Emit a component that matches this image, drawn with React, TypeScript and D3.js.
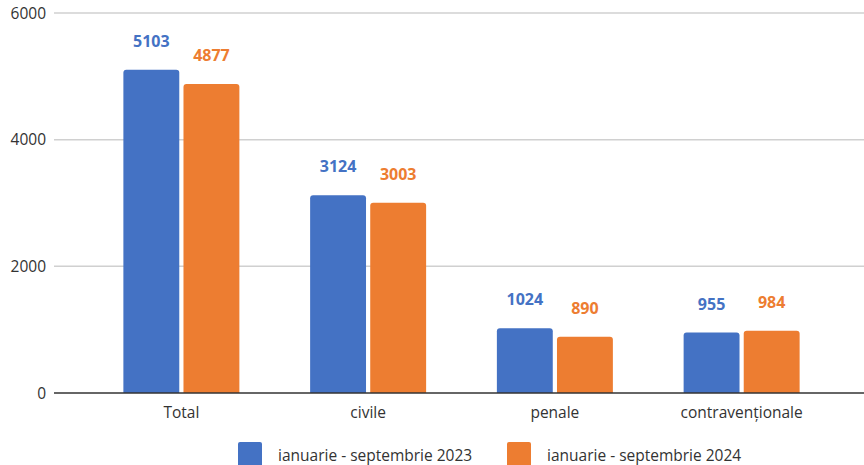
import { useRef, useEffect } from 'react';
import * as d3 from 'd3';

const W = 864;
const H = 465;

const categories = ['Total', 'civile', 'penale', 'contravenționale'];
const seriesNames = ['ianuarie - septembrie 2023', 'ianuarie - septembrie 2024'];
const values2023 = [5103, 3124, 1024, 955];
const values2024 = [4877, 3003, 890, 984];
const yTicks = [0, 2000, 4000, 6000];
const colors = ['#4472C4', '#ED7D31'];

const FONT = '"Open Sans", "Noto Sans", sans-serif';

export default function App() {
  const svgRef = useRef<SVGSVGElement>(null);

  useEffect(() => {
    const svg = d3.select(svgRef.current);
    svg.selectAll('*').remove();

    const y = d3.scaleLinear().domain([0, 6000]).range([393, 13]);
    const x0 = d3.scaleBand().domain(categories).range([88, 835]);
    const x1 = d3.scaleBand().domain(seriesNames).range([-58, 58]).paddingInner(0.07);

    // gridlines
    svg.append('g').selectAll('line').data(yTicks.filter(t => t > 0)).enter()
      .append('line')
      .attr('x1', 54).attr('x2', W)
      .attr('y1', d => y(d)).attr('y2', d => y(d))
      .attr('stroke', '#d0d0d0').attr('stroke-width', 1.5);

    svg.append('g').selectAll('text').data(yTicks).enter()
      .append('text')
      .attr('x', 46).attr('y', d => y(d) + 5.5)
      .attr('text-anchor', 'end')
      .attr('font-family', FONT).attr('font-size', 15.5).attr('fill', '#333')
      .text(d => String(d));

    const series = [values2023, values2024];
    const r = 3;
    series.forEach((vals, si) => {
      const g = svg.append('g');
      g.selectAll('path').data(categories).enter()
        .append('path')
        .attr('fill', colors[si])
        .attr('d', (c, i) => {
          const bx = x0(c)! + x0.bandwidth() / 2 + x1(seriesNames[si])!;
          const bw = x1.bandwidth();
          const top = y(vals[i]);
          const bot = y(0);
          return `M${bx},${bot}V${top + r}Q${bx},${top} ${bx + r},${top}H${bx + bw - r}Q${bx + bw},${top} ${bx + bw},${top + r}V${bot}Z`;
        });
      g.selectAll('text').data(categories).enter()
        .append('text')
        .attr('x', (c) => x0(c)! + x0.bandwidth() / 2 + x1(seriesNames[si])! + x1.bandwidth() / 2)
        .attr('y', (c, i) => y(vals[i]) - 23)
        .attr('text-anchor', 'middle')
        .attr('font-family', FONT).attr('font-size', 16).attr('font-weight', 'bold')
        .attr('fill', colors[si])
        .text((c, i) => String(vals[i]));
    });

    // zero line
    svg.append('line')
      .attr('x1', 54).attr('x2', W)
      .attr('y1', y(0)).attr('y2', y(0))
      .attr('stroke', '#333').attr('stroke-width', 1.5);

    svg.append('g').selectAll('text').data(categories).enter()
      .append('text')
      .attr('x', d => x0(d)! + x0.bandwidth() / 2)
      .attr('y', 418)
      .attr('text-anchor', 'middle')
      .attr('font-family', FONT).attr('font-size', 15.5).attr('fill', '#333')
      .text(d => d);

    // legend
    const legendX = [238, 507];
    seriesNames.forEach((name, i) => {
      svg.append('rect')
        .attr('x', legendX[i]).attr('y', 442).attr('width', 24).attr('height', 26)
        .attr('rx', 2).attr('fill', colors[i]);
      svg.append('text')
        .attr('x', legendX[i] + 40).attr('y', 461)
        .attr('font-family', FONT).attr('font-size', 15.5).attr('fill', '#333')
        .text(name);
    });
  }, []);

  return (
    <svg ref={svgRef} width={W} height={H}
      style={{ position: 'absolute', left: 0, top: 0, background: '#fff' }} />
  );
}
